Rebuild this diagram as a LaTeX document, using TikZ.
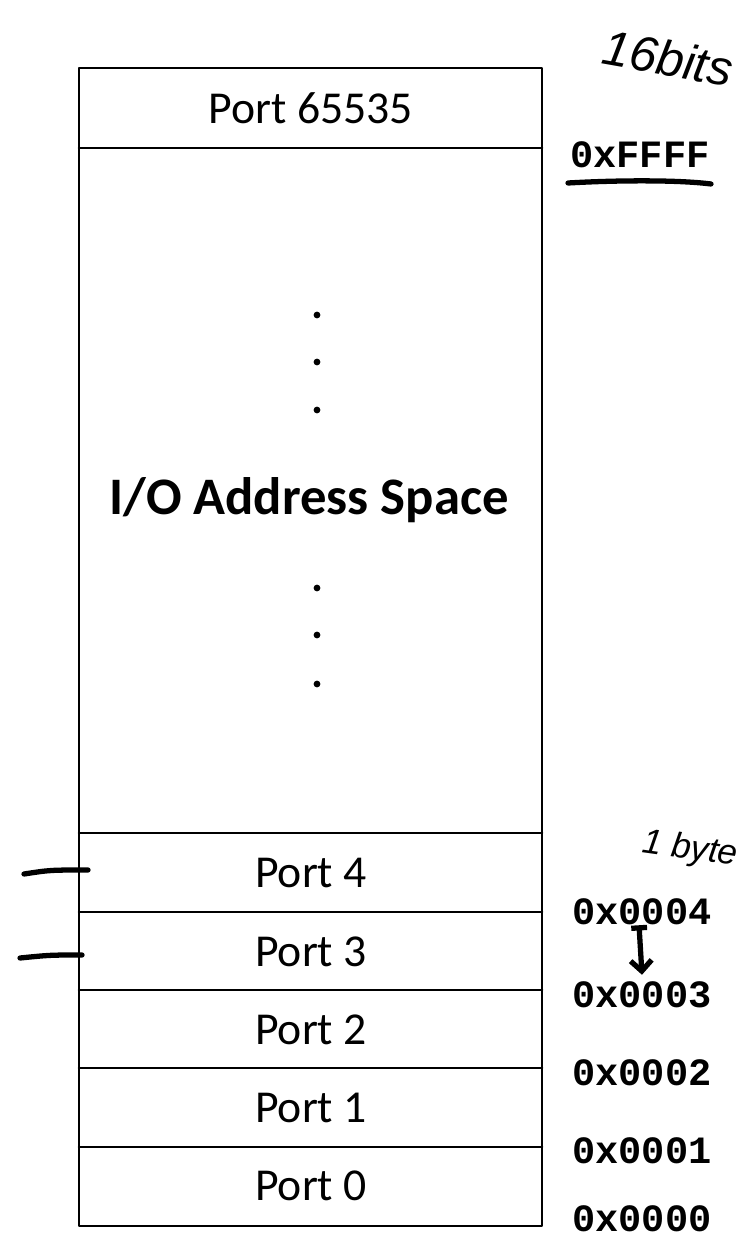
\documentclass[tikz,border=0pt]{standalone}
\usepackage{fontspec}
\setmainfont{Carlito}
\newfontfamily\addrfont{Liberation Mono}
\newfontfamily\handfont{Liberation Sans}
\usetikzlibrary{arrows.meta}
\tikzset{
  port/.style={inner sep=1pt,font=\fontsize{26}{30}\selectfont},
  addr/.style={inner sep=1pt,font=\addrfont\bfseries\fontsize{22}{26}\selectfont},
  hand/.style={line width=3pt,line cap=round,line join=round},
  handtext/.style={inner sep=0pt,font=\handfont\itshape}
}
\begin{document}
\begin{tikzpicture}[x=0.02cm,y=-0.02cm,line cap=round,line join=round,>=latex]
  \useasboundingbox (0,0) rectangle (746,1239);
  % port column
  \draw[line width=1.6pt] (79,68) rectangle (542,1226);
  \foreach \y in {148,833,912,990,1068,1147}
    \draw[line width=1.5pt] (79,\y) -- (542,\y);
  \node[port] (p65535) at (311,108) {Port 65535};
  \node[port] (p4) at (311,873) {Port 4};
  \node[port] (p3) at (311,952) {Port 3};
  \node[port] (p2) at (311,1030) {Port 2};
  \node[port] (p1) at (311,1108) {Port 1};
  \node[port] (p0) at (311,1186) {Port 0};
  \node[inner sep=1pt,font=\bfseries\fontsize{30}{34}\selectfont] (space) at (309,500) {I/O Address Space};
  \foreach \y in {315,362,410,588,635,684}
    \fill (317,\y) circle[radius=3.4];
  % addresses
  \node[addr] (aFFFF) at (640,155) {0xFFFF};
  \node[addr] (a4) at (642,912) {0x0004};
  \node[addr] (a3) at (642,995) {0x0003};
  \node[addr] (a2) at (642,1073) {0x0002};
  \node[addr] (a1) at (642,1151) {0x0001};
  \node[addr] (a0) at (642,1219) {0x0000};
  % handwritten notes
  \node[handtext,font=\handfont\itshape\fontsize{28}{28}\selectfont,rotate=-10] (bits) at (668,58) {16bits};
  \node[handtext,font=\handfont\itshape\fontsize{20}{20}\selectfont,rotate=-8] (byte) at (690,850) {1 byte};
  \draw[hand] (568,183) .. controls (620,180) and (680,180) .. (711,184);
  \draw[hand] (24,874) .. controls (50,870) .. (88,870);
  \draw[hand] (20,958) .. controls (50,955) .. (82,955);
  \draw[hand,{Bar[width=9pt]}-{Straight Barb[length=6pt,width=12pt]}] ([xshift=-0.06cm,yshift=0.04cm]a4.south) -- ([yshift=0.1cm]a3.north);
\end{tikzpicture}
\end{document}
